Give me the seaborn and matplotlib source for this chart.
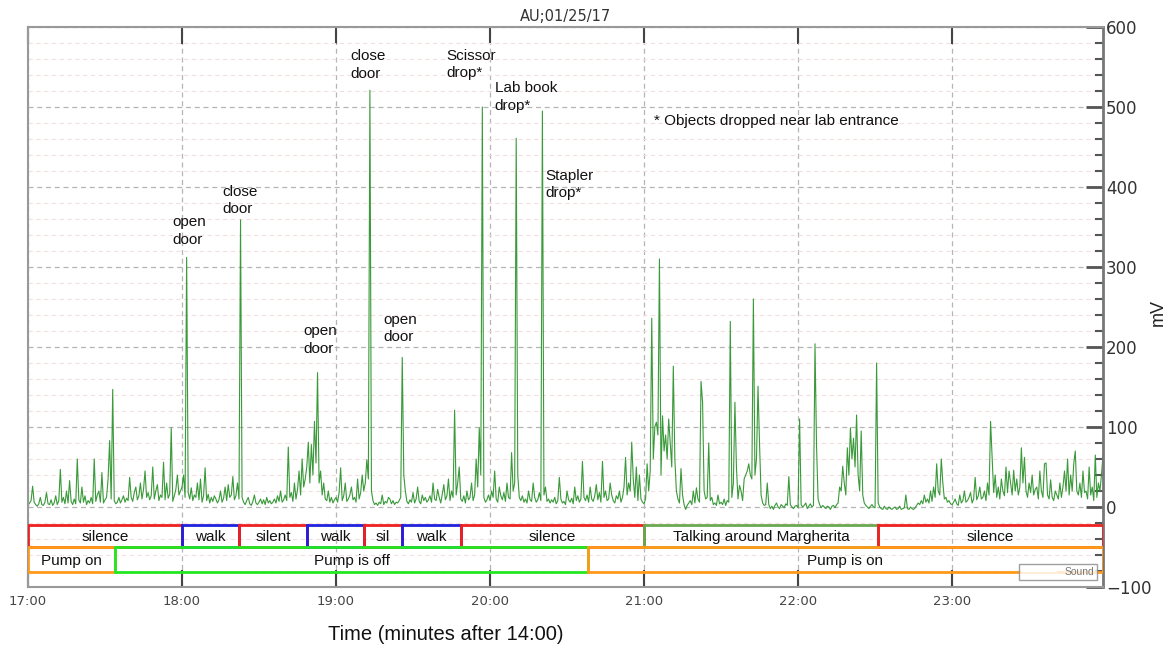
import numpy as np
import pandas as pd
import seaborn as sns
import matplotlib
matplotlib.use("Agg")
import matplotlib.pyplot as plt
from matplotlib.patches import Rectangle
from matplotlib.ticker import MultipleLocator, FuncFormatter
from matplotlib.lines import Line2D

# ---------------- data ----------------
# sound signal (mV), one sample every 0.01 "minute" starting at 17:00
signal_mv = [
    2, 5, 8, 26, 6, 3, 1, 4, 12, 3, 2, 6, 18, 4, 3, 9, 2, 5, 14, 3,
    8, 47, 6, 12, 4, 20, 5, 33, 7, 3, 10, 4, 60, 9, 5, 25, 6, 14, 3, 8,
    5, 12, 4, 60, 7, 15, 20, 6, 43, 5, 9, 12, 35, 83, 10, 147, 8, 4, 6, 12,
    5, 9, 14, 6, 11, 8, 37, 12, 7, 18, 25, 9, 14, 30, 10, 22, 45, 12, 18, 9,
    14, 50, 10, 20, 28, 8, 15, 12, 56, 9, 30, 11, 16, 99, 7, 14, 22, 40, 15, 20,
    25, 40, 12, 312, 18, 10, 24, 8, 15, 12, 30, 9, 35, 6, 14, 49, 8, 16, 5, 12,
    7, 14, 10, 5, 9, 20, 6, 11, 25, 8, 28, 12, 15, 38, 9, 14, 30, 10, 359, 12,
    6, 3, 8, 12, 4, 2, 7, 15, 5, 3, 6, 10, 4, 9, 3, 12, 5, 8, 4, 6,
    10, 5, 14, 7, 20, 6, 9, 15, 8, 75, 12, 18, 7, 30, 10, 22, 45, 15, 60, 25,
    35, 50, 81, 30, 78, 40, 107, 55, 168, 30, 45, 15, 30, 10, 8, 20, 6, 12, 5, 9,
    12, 6, 18, 49, 8, 14, 30, 7, 10, 15, 25, 9, 12, 6, 35, 10, 18, 40, 20, 30,
    59, 35, 521, 20, 8, 3, 5, 2, 6, 4, 15, 3, 7, 5, 12, 10, 4, 8, 3, 6,
    5, 8, 12, 187, 40, 20, 7, 4, 9, 6, 18, 5, 10, 25, 7, 4, 15, 8, 12, 6,
    9, 14, 6, 30, 10, 8, 22, 12, 5, 16, 28, 9, 14, 35, 8, 20, 12, 121, 15, 30,
    50, 10, 7, 14, 5, 20, 9, 12, 30, 8, 15, 60, 25, 99, 40, 500, 12, 6, 9, 15,
    8, 20, 12, 45, 10, 6, 25, 14, 9, 18, 7, 30, 12, 10, 68, 20, 30, 461, 40, 12,
    8, 14, 6, 10, 5, 20, 9, 7, 30, 12, 6, 9, 18, 8, 495, 15, 25, 7, 10, 5,
    9, 6, 12, 4, 8, 37, 10, 5, 7, 3, 20, 9, 6, 11, 4, 25, 8, 14, 6, 10,
    57, 12, 8, 15, 6, 25, 10, 7, 14, 28, 9, 18, 6, 57, 12, 20, 8, 10, 30, 15,
    8, 5, 14, 10, 20, 6, 12, 25, 62, 15, 30, 20, 81, 35, 12, 50, 8, 40, 10, 6,
    4, 10, 54, 20, 45, 236, 60, 100, 106, 90, 310, 40, 114, 70, 90, 60, 110, 80, 50, 176,
    60, 20, 10, 5, 48, 15, 3, -3, 2, 5, 8, 3, 20, 5, 24, 10, 6, 157, 131, 20,
    10, 12, 80, 8, 12, 3, 5, 2, 15, 4, 6, 3, 10, 2, 8, 6, 232, 12, 30, 131,
    49, 10, 27, 20, 8, 35, 40, 45, 54, 40, 35, 260, 40, 60, 151, 78, 15, 5, 2, 3,
    30, 3, -2, 1, -3, 2, 5, 0, -2, 3, 1, -1, 4, 2, 38, 3, 0, -2, 1, 2,
    -1, 110, 3, 0, 2, 5, -2, 1, 4, 0, 2, 204, 76, 10, 3, -1, 2, 0, -2, 1,
    0, -3, 1, 2, -1, 3, 5, 25, 20, 51, 30, 15, 74, 40, 99, 60, 86, 50, 115, 40,
    20, 95, 15, 5, 2, 0, -2, 1, 3, 0, -1, 180, 5, 0, -2, -3, 1, -2, -3, 0,
    -2, -3, -1, 0, -3, -2, 1, -3, -2, -1, 15, -2, -3, 0, -2, -3, -1, 2, 5, 3,
    8, 4, 15, 6, 10, 5, 20, 7, 25, 12, 54, 20, 15, 60, 30, 10, 12, 6, 8, 4,
    3, 6, 10, 4, 2, 15, 5, 8, 20, 6, 8, 12, 18, 5, 10, 37, 9, 14, 25, 10,
    12, 20, 8, 30, 15, 107, 63, 18, 40, 12, 25, 10, 35, 20, 14, 50, 18, 45, 30, 15,
    46, 20, 35, 15, 25, 74, 30, 62, 20, 12, 30, 18, 40, 15, 22, 25, 10, 45, 20, 12,
    54, 55, 15, 10, 34, 12, 8, 20, 15, 10, 30, 12, 25, 45, 20, 60, 15, 40, 20, 54,
    70, 20, 15, 30, 12, 45, 18, 20, 10, 50, 15, 25, 8, 65, 12, 30, 20, 40, 65, 25,
]
start_min = 17.0
step_min = 0.01

# activity row
activity_labels = ["silence", "walk", "silent", "walk", "sil", "walk", "silence",
                   "Talking around Margherita", "silence"]
activity_start = [17.0, 18.0, 18.37, 18.81, 19.18, 19.43, 19.81, 21.0, 22.52]
activity_end = [18.0, 18.37, 18.81, 19.18, 19.43, 19.81, 21.0, 22.52, 23.98]
activity_colors = ["#ee2020", "#2020dd", "#ee2020", "#2020dd", "#ee2020", "#2020dd",
                   "#ee2020", "#6aa84f", "#ee2020"]

# pump row
pump_labels = ["Pump on", "Pump is off", "Pump is on"]
pump_start = [17.0, 17.565, 20.636]
pump_end = [17.565, 20.636, 23.98]
pump_colors = ["#ff9a1a", "#22e822", "#ff9a1a"]

# event annotations
event_labels = ["open\ndoor", "close\ndoor", "open\ndoor", "close\ndoor", "open\ndoor",
                "Scissor\ndrop*", "Lab book\ndrop*", "Stapler\ndrop*"]
event_x = [17.935, 18.26, 18.786, 19.09, 19.31, 19.714, 20.03, 20.36]
event_y = [365, 403, 229, 572, 243, 573, 532, 423]

note_text = "* Objects dropped near lab entrance"

x_ticks = [17, 18, 19, 20, 21, 22, 23]

# ---------------- plot ----------------
sns.set_theme(style="white")
plt.rcParams["font.family"] = ["Liberation Sans", "DejaVu Sans"]

W, H = 1170, 653
fig = plt.figure(figsize=(W / 100, H / 100), dpi=100)
ax = fig.add_axes([28 / W, 1 - 587 / H, 1075 / W, 560 / H])

time_min = start_min + step_min * np.arange(len(signal_mv))
df = pd.DataFrame({"time": time_min, "mV": signal_mv})
sns.lineplot(data=df, x="time", y="mV", ax=ax, color="#2f942f", lw=0.8,
             estimator=None, legend=False, alpha=0.95)

ax.set_xlim(17.0, 23.98)
ax.set_ylim(-100, 600)

# grids
ax.yaxis.set_major_locator(MultipleLocator(100))
ax.yaxis.set_minor_locator(MultipleLocator(20))
ax.set_xticks(x_ticks)
ax.xaxis.set_major_formatter(FuncFormatter(lambda v, p: f"{int(round(v))}:00"))
ax.grid(which="major", axis="both", color="#b5b5b5", lw=0.9, linestyle=(0, (4, 3)))
ax.grid(which="minor", axis="y", color="#f7dede", lw=0.8, linestyle=(0, (4, 3)))
ax.set_axisbelow(True)

# ticks
ax.yaxis.tick_right()
ax.yaxis.set_label_position("right")
ax.tick_params(axis="y", which="major", direction="in", length=12, width=2,
               color="#555555", labelsize=12, labelcolor="#333333", pad=2,
               left=False, right=True)
ax.tick_params(axis="y", which="minor", direction="in", length=6, width=1.5,
               color="#555555", left=False, right=True)
ax.tick_params(axis="x", which="major", direction="in", length=12, width=1.5,
               color="#444444", labelsize=9.5, labelcolor="#444444", top=True,
               bottom=True, pad=6)
for lab in ax.get_xticklabels() + ax.get_yticklabels():
    lab.set_fontfamily("DejaVu Sans")
for side, sp in ax.spines.items():
    sp.set_color("#999999")
    sp.set_linewidth(1.5)
ax.spines["right"].set_color("#777777")
ax.spines["right"].set_linewidth(2)

ax.set_xlabel("")
ax.set_ylabel("mV", fontsize=13, color="#222222")
ax.yaxis.set_label_coords(1.0435, 0.49)
ax.set_title("AU;01/25/17", fontsize=10.5, color="#333333", pad=4,
             fontfamily="DejaVu Sans")

# annotation boxes
row1 = (-50, -22.5)
row2 = (-81, -50)
for lab, s, e, c in zip(activity_labels, activity_start, activity_end, activity_colors):
    ax.add_patch(Rectangle((s, row1[0]), e - s, row1[1] - row1[0], fill=False,
                           edgecolor=c, lw=2, zorder=4))
    ax.text((s + e) / 2, (row1[0] + row1[1]) / 2 - 1.5, lab, ha="center", va="center",
            fontsize=11, color="#111111", zorder=5)
for lab, s, e, c in zip(pump_labels, pump_start, pump_end, pump_colors):
    ax.add_patch(Rectangle((s, row2[0]), e - s, row2[1] - row2[0], fill=False,
                           edgecolor=c, lw=2, zorder=4))
    ax.text((s + e) / 2, (row2[0] + row2[1]) / 2 - 1.5, lab, ha="center", va="center",
            fontsize=11, color="#111111", zorder=5)

# events
for lab, x, y in zip(event_labels, event_x, event_y):
    ax.text(x, y, lab, ha="left", va="top", fontsize=11, color="#111111",
            linespacing=1.35)
ax.text(21.065, 483, note_text, ha="left", va="center", fontsize=11, color="#111111")

# legend
leg = ax.legend(handles=[Line2D([], [], color="white", lw=1)], labels=["Sound"],
                loc="lower right", bbox_to_anchor=(0.9944, 0.0125), borderaxespad=0,
                fontsize=7.5, frameon=True, fancybox=False, edgecolor="#888888",
                handlelength=3.2, borderpad=0.3, labelcolor="#777777")
leg.get_frame().set_linewidth(1.0)

fig.text(446 / W, 1 - 635 / H, "Time (minutes after 14:00)", ha="center",
         va="center", fontsize=14.5, color="#111111")

fig.savefig("out.png", dpi=100)
